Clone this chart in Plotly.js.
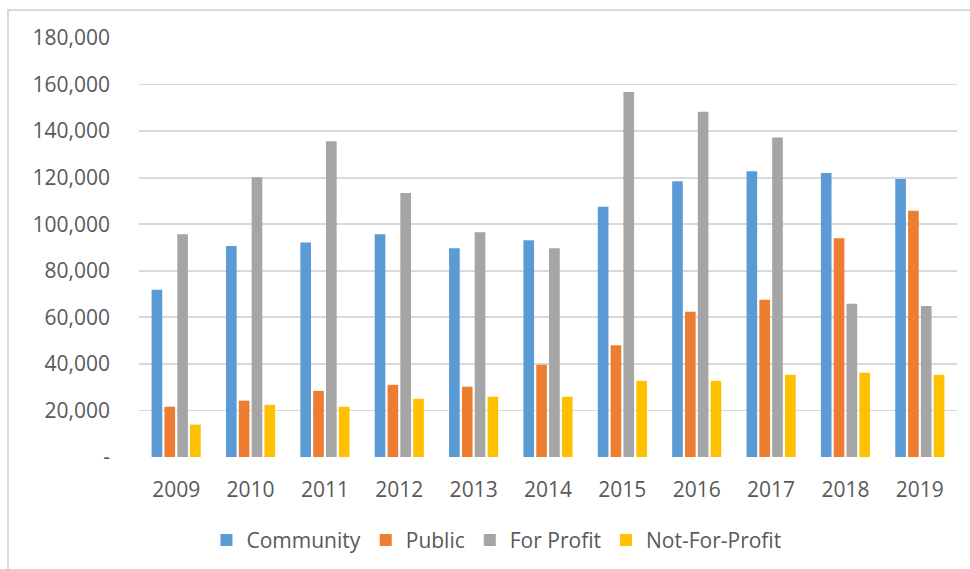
<!DOCTYPE html>
<html>
<head>
<meta charset="utf-8">
<script src="https://cdn.plot.ly/plotly-3.0.1.min.js"></script>
<style>
  html, body { margin: 0; padding: 0; background: #ffffff; }
  #wrap { position: relative; width: 970px; height: 569px; }
  #chart { width: 970px; height: 569px; }
  #frame { position: absolute; left: 7px; top: 9px; width: 980px; height: 600px;
           border-left: 2px solid #d9d9d9; border-top: 2px solid #d9d9d9; pointer-events: none; }
</style>
</head>
<body>
<div id="wrap">
  <div id="chart"></div>
  <div id="frame"></div>
</div>
<script>
const years = ["2009","2010","2011","2012","2013","2014","2015","2016","2017","2018","2019"];
const community = [71800, 90600, 92200, 95700, 89700, 93100, 107500, 118500, 122800, 122000, 119400];
const publicInst = [21600, 24200, 28400, 31000, 30200, 39600, 48000, 62400, 67500, 94000, 105800];
const forProfit = [95700, 120200, 135600, 113400, 96500, 89700, 156800, 148300, 137300, 65800, 64900];
const notForProfit = [13900, 22400, 21600, 25000, 25900, 25900, 32700, 32700, 35300, 36200, 35300];
const seriesNames = ["Community", "Public", "For Profit", "Not-For-Profit"];
const seriesColors = ["#5B9BD5", "#ED7D31", "#A5A5A5", "#FFC000"];
const yTickVals = [0, 20000, 40000, 60000, 80000, 100000, 120000, 140000, 160000, 180000];
const yTickText = ["-", "20,000", "40,000", "60,000", "80,000", "100,000", "120,000", "140,000", "160,000", "180,000"];

const allSeries = [community, publicInst, forProfit, notForProfit];
const traces = allSeries.map((vals, i) => ({
  type: "bar",
  name: seriesNames[i],
  x: years,
  y: vals,
  marker: { color: seriesColors[i] },
  hoverinfo: "x+y+name"
}));

const font = "Open Sans, Lato, sans-serif";
const layout = {
  width: 970,
  height: 569,
  margin: { l: 139, r: 13, t: 38, b: 112, autoexpand: false },
  paper_bgcolor: "#ffffff",
  plot_bgcolor: "#ffffff",
  barmode: "group",
  bargap: 0.31,
  bargroupgap: 0.17,
  font: { family: font, size: 21, color: "#595959" },
  xaxis: {
    type: "category",
    showgrid: false,
    showline: false,
    zeroline: false,
    ticks: "",
    tickfont: { family: font, size: 21, color: "#595959" },
    ticklabelstandoff: 18
  },
  yaxis: {
    range: [0, 180000],
    tickmode: "array",
    tickvals: yTickVals,
    ticktext: yTickText,
    showgrid: true,
    gridcolor: "#d9d9d9",
    gridwidth: 1.8,
    zeroline: false,
    showline: false,
    ticks: "",
    tickfont: { family: font, size: 21, color: "#595959" },
    ticklabelstandoff: 28
  },
  legend: {
    orientation: "h",
    x: 0.437,
    xanchor: "center",
    y: -0.15,
    yanchor: "top",
    font: { family: font, size: 21, color: "#595959" },
    traceorder: "normal"
  },
  showlegend: true
};

Plotly.newPlot("chart", traces, layout, { displayModeBar: false, staticPlot: true });
</script>
</body>
</html>
